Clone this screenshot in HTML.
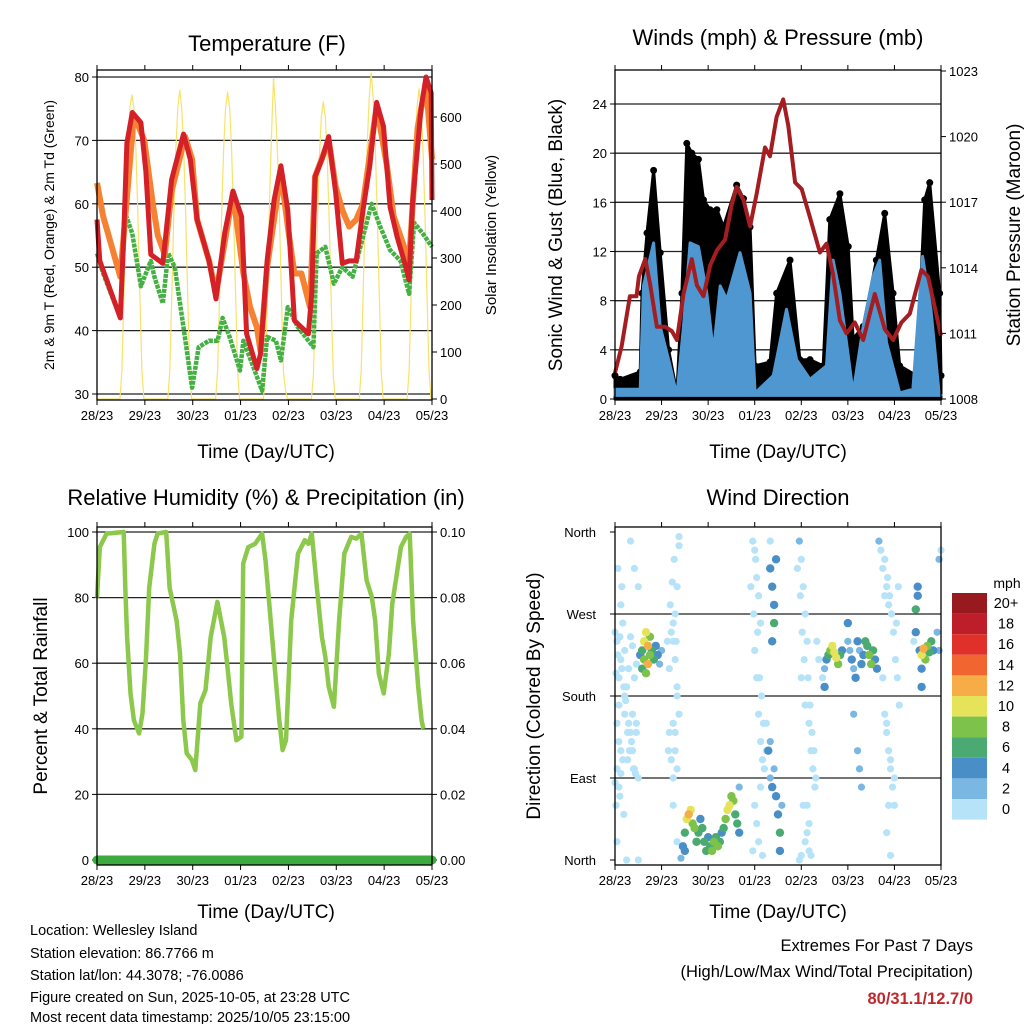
<!DOCTYPE html>
<html><head><meta charset="utf-8"><style>
body{margin:0;background:#fff;}
svg{display:block;font-family:"Liberation Sans",sans-serif;}
</style></head><body>
<svg id="chart" width="1024" height="1024" viewBox="0 0 1024 1024" xmlns="http://www.w3.org/2000/svg">
<rect x="0" y="0" width="1024" height="1024" fill="#fff"/>
<g id="texts" font-family="Liberation Sans, sans-serif" fill="#000">
<text x="267" y="51" font-size="22" text-anchor="middle">Temperature (F)</text>
<text x="778" y="45" font-size="22" text-anchor="middle">Winds (mph) &amp; Pressure (mb)</text>
<text x="266" y="505" font-size="22" text-anchor="middle">Relative Humidity (%) &amp; Precipitation (in)</text>
<text x="778" y="505" font-size="22" text-anchor="middle">Wind Direction</text>
<text x="266" y="458" font-size="19" text-anchor="middle">Time (Day/UTC)</text>
<text x="778" y="458" font-size="19" text-anchor="middle">Time (Day/UTC)</text>
<text x="266" y="918" font-size="19" text-anchor="middle">Time (Day/UTC)</text>
<text x="778" y="918" font-size="19" text-anchor="middle">Time (Day/UTC)</text>
<text transform="translate(54,235) rotate(-90)" font-size="14" text-anchor="middle">2m &amp; 9m T (Red, Orange) &amp; 2m Td (Green)</text>
<text transform="translate(496,235) rotate(-90)" font-size="15" text-anchor="middle">Solar Insolation (Yellow)</text>
<text transform="translate(562,235) rotate(-90)" font-size="19" text-anchor="middle">Sonic Wind &amp; Gust (Blue, Black)</text>
<text transform="translate(1020,235) rotate(-90)" font-size="19" text-anchor="middle">Station Pressure (Maroon)</text>
<text transform="translate(47,696) rotate(-90)" font-size="19" text-anchor="middle">Percent &amp; Total Rainfall</text>
<text transform="translate(540,696) rotate(-90)" font-size="19" text-anchor="middle">Direction (Colored By Speed)</text>
<text x="1007" y="588" font-size="14" text-anchor="middle">mph</text>
<g font-size="14.5">
<text x="30" y="935">Location: Wellesley Island</text>
<text x="30" y="958">Station elevation: 86.7766 m</text>
<text x="30" y="980">Station lat/lon: 44.3078; -76.0086</text>
<text x="30" y="1002">Figure created on Sun, 2025-10-05, at 23:28 UTC</text>
<text x="30" y="1024" dy="-2">Most recent data timestamp: 2025/10/05 23:15:00</text>
</g>
<text x="973" y="951" font-size="16.5" text-anchor="end">Extremes For Past 7 Days</text>
<text x="973" y="977" font-size="16.5" text-anchor="end">(High/Low/Max Wind/Total Precipitation)</text>
<text x="973" y="1004" font-size="16.5" font-weight="bold" fill="#c0282d" text-anchor="end">80/31.1/12.7/0</text>
</g>
</svg>
<script>
// ---------- data ----------
const dayLabels=["28/23","29/23","30/23","01/23","02/23","03/23","04/23","05/23"];
const tempTicks=[30,40,50,60,70,80];
const solarTicks=[0,100,200,300,400,500,600];
const windTicks=[0,4,8,12,16,20,24];
const pressTicks=[1008,1011,1014,1017,1020,1023];
const rhTicks=[0,20,40,60,80,100];
const precipTicks=["0.00","0.02","0.04","0.06","0.08","0.10"];
const dirTicks=["North","East","South","West","North"];
const legendLabels=["20+","18","16","14","12","10","8","6","4","2","0"];

const t2Hours=[0,1.4,11.7,13.4,15,17.7,22,24.5,27,33,37.4,43.4,46.8,50.2,56.2,59.7,64,68.2,72.5,75,80.2,82,85.3,88.8,92.2,95.7,99,106,107.7,109.4,112.8,116.2,119.7,123,126.5,130,133.4,136.8,140.2,143.7,147,150.5,154,156.5,158.2,162.5,165,167.6,168];
const t2Vals=[57.5,51,42,55,69.6,74.4,72.8,65,52,50.6,63.8,71,67,57.5,51,45,55.3,62,58,39.5,34,36.3,51,60.6,66,59,41.6,39.5,46,64.3,67,70.6,61.7,50.6,51,51,59,66,76,72.2,59.5,54.8,51,48,60,75,80,77.5,60.6];
const t9Hours=[0,3.1,11.7,13.4,18.5,23.7,28,30.5,34,37.4,44.2,47.7,50.2,56.2,59.7,68.2,73.4,76.8,80.2,82,85.3,92.2,95.7,99,102.5,106.8,109.4,116.2,119.7,123,126.5,130,133.4,140.2,145.4,148.8,154,156.5,160.8,165,168];
const t9Vals=[63.3,58,48.5,55,74,70,60,55,52,62,70.6,67,57.5,51,45.8,61.7,49,43.7,40.5,36.8,50,65,56.4,49,49,43.7,64.3,70,62.7,59,56.4,57.5,60,75.4,66,58,53.2,51,72,79,67];
const tdHours=[0,3.1,11.7,14.2,17.7,22,27,28.8,33,35.7,39,43.4,47.7,51,56.2,60.5,63,66.5,71.7,73.4,78.5,82.8,85.3,89.7,92.2,95.7,100.8,106,108.5,110.2,114.5,118.8,123,128.2,133.4,137.7,142,147,152.2,156.5,159,163.4,168];
const tdVals=[52.2,49,42,58.5,55.3,47,51,48.5,44.3,52.2,50,40.5,31,37.4,38.4,38.4,42,39,33.7,38.4,34.2,30.5,39,38.4,35.3,43.7,40.5,38.4,37.4,52.2,53.2,47.4,50,48.5,54.8,60,56.4,52.7,51,45.8,57,55.3,53.2];
const solarHours=[0,11.5,12.5,13.5,14.5,15.5,16.5,17.5,18.5,19.5,20.5,21.5,22.5,23.5,
35.5,36.5,37.5,38.5,39.5,40.5,41.5,42.5,43.5,44.5,45.5,46.5,47.5,
59.5,60.5,61.5,62.5,63.5,64.5,65.5,66.5,67.5,68.5,69.5,70.5,71.5,
83.5,84.5,85.5,86.5,87.5,88.5,89.5,90.5,91.5,92.5,93.5,94.5,95.5,
107.5,108.5,109.5,110.5,111.5,112.5,113.5,114.5,115.5,116.5,117.5,118.5,119.5,
131.5,132.5,133.5,134.5,135.5,136.5,137.5,138.5,139.5,140.5,141.5,142.5,143.5,
155.5,156.5,157.5,158.5,159.5,160.5,161.5,162.5,163.5,164.5,165.5,166.5,167.5,168];
const solarVals=[0,0,60,220,390,530,620,647,620,530,390,220,60,0,
0,60,220,390,530,620,657,620,530,390,220,60,0,
0,60,220,390,530,620,653,620,530,390,220,60,0,
0,60,220,420,560,683,620,520,390,220,60,20,0,
0,50,200,370,510,600,632,600,510,370,200,50,0,
0,60,230,400,540,640,694,640,540,400,230,60,0,
0,60,220,390,530,620,660,620,530,390,220,60,0,20];

const gustHours=[0,2.7,13,13.9,16.5,19.9,23.3,27.6,31.9,34.5,37,39.6,43,45.6,49,52.5,55.9,62.7,66.2,69.6,72.2,79.9,83.3,90.2,95.3,100.5,107.3,110.7,115.9,120.2,122.7,127.9,134.7,139,143.3,146.7,155.3,159.6,162.2,167.3,168];
const gustVals=[1.9,1.6,2.2,8.6,13.5,18.6,11.9,4,0.5,8.6,20.8,20,19.5,16.2,15.4,15.4,14,17.4,16.3,14,2.7,3,8.6,11.3,3.2,3.2,2.7,14.6,16.7,12.4,4.9,5.9,11.3,15.1,8.6,2.7,1.9,16.2,17.6,8.6,1.9];
const sustHours=[0,13,14.7,19.9,23.3,28.4,31.9,35.3,38.7,43,47.3,50.7,54.2,57.6,64.4,69.6,72.2,81.6,88.4,93.6,100.5,109,112.4,115.9,119.3,122.7,127.9,133,136.4,139.9,146.7,153.5,158.5,162.8,167];
const sustVals=[0.8,0.8,9.2,12.7,5.9,2.7,0.3,5.9,12.7,12.4,8.6,3.8,9.2,8.1,11.9,8.6,0.5,1.9,7.3,3.2,1.6,2.7,11.3,8.6,4.6,0.5,5.9,10,11.3,4.6,0.5,0.8,11.6,7.3,0.5];
const pressHours=[0,3.4,7.7,11.1,12.3,15.6,18.2,21.6,25.9,29.3,31.9,35.3,39.6,42.2,45.6,49,52.5,56.8,60.2,62.7,66.2,69.6,73,77.3,79.9,83.3,86.7,89.3,92.8,96.2,100.5,105.6,109,112.4,115.9,119.3,123.6,127.9,133.9,139,143.3,147.6,151.9,157.9,161.3,166.5,168];
const pressVals=[1009.2,1010.4,1012.7,1012.7,1013.6,1014.4,1013.2,1011.3,1011.3,1011.1,1010.7,1012.8,1014.4,1013.2,1012.7,1014.1,1014.8,1015.3,1016.9,1017.7,1017.1,1015.9,1017.4,1019.5,1019.1,1020.9,1021.7,1020.5,1017.9,1017.6,1016.3,1014.7,1015.1,1013.7,1011.6,1011,1011.5,1010.7,1012.8,1011.2,1010.7,1011.5,1011.9,1013.9,1013.6,1011.5,1010.9];

const rhHours=[0,1.4,4.8,13.4,14.2,15.1,16.8,18.5,21.1,22.8,24.5,26.2,28.8,30.4,34.7,36.4,39.9,41.6,43.3,45,47.6,49.3,51.8,54.4,57,60.4,63.8,65.6,67.3,69.9,72.4,73.3,75.9,79.3,82.8,84.5,87.1,91.4,93.1,94.8,97.4,100.8,104.2,106,107.7,110.3,112.8,114.5,116.2,118.8,121.4,124,127.5,130,132.6,135.2,137.8,139.5,141.3,143.8,146.4,148.1,152.4,155,156.8,158.5,161.1,162.8,163.7];
const rhVals=[80,95.4,99.5,100,83,68,50.8,42.6,38.6,44.7,61,83,96.4,99.5,100,83,73,63,42.6,32.5,30.5,27.4,47.7,51.8,68,78.7,68,57.9,47.7,36.5,37.6,90.4,95.4,96.4,99.5,91.4,73,42.6,33.5,36.5,73,93.4,97.5,96.4,99.5,83,68,62,52.8,46.7,73,93.4,98.5,98,99.5,85.3,80.2,73,56.9,50.8,63,78.2,95.4,98.5,99.5,73,52.8,42.6,40];
const precipHours=[0,168];
const precipVals=[0,0];

const dirHours=[0,1,2,3,4,5,6,7,8,9,10,11,1,2,3,4,5,8,9,10,11,12,0,1,2,3,8,10,12,3,1,12,6,
13,14,15,15,16,17,17,18,18,19,20,21,22,23,24,16,14,
29,30,31,32,33,33,30,31,32,30,31,31,32,33,30,32,
34,35,36,37,38,39,40,41,42,43,44,45,46,47,48,49,50,51,52,53,54,55,56,57,58,59,60,61,62,63,64,64,36,
71,72,73,74,75,72,73,74,75,76,72,74,76,78,78,
80,80,81,82,82,83,81,80,81,82,83,84,85,85,86,79,80,
95,96,97,98,99,96,98,100,101,102,103,99,100,98,101,104,105,95,
107,108,109,110,111,112,113,114,115,116,117,108,
120,121,122,123,124,125,126,127,128,129,130,131,132,133,134,135,120,123,125,126,127,
136,137,138,139,140,141,138,139,140,141,142,143,144,140,142,145,146,
154,155,155,156,156,157,158,159,160,161,162,163,164,158,158,166,167,167,168];
const dirDegs=[250,240,200,220,260,230,190,210,245,235,200,215,150,130,95,110,160,140,120,100,150,90,85,100,80,120,350,320,300,280,20,0,0,
225,230,220,240,250,235,215,225,245,230,220,235,225,215,230,205,210,
250,260,270,300,345,355,240,220,190,150,140,120,100,160,60,20,
2,15,30,45,50,55,40,35,20,30,45,35,20,10,25,15,10,20,25,15,20,30,35,45,55,60,70,65,50,40,30,80,10,
350,340,310,290,260,230,200,160,130,110,60,20,5,150,120,
350,320,300,280,260,330,240,90,80,100,70,50,30,10,60,120,130,
350,330,300,270,240,200,170,150,120,100,80,60,40,20,5,240,220,0,
200,210,220,225,230,235,228,222,215,225,230,190,
240,230,220,210,200,240,230,215,225,240,235,225,215,230,220,210,260,160,120,100,80,
350,340,320,290,300,280,200,160,140,120,100,80,60,30,5,260,300,
240,250,275,290,300,230,225,232,220,235,228,240,230,210,190,250,230,330,340];
const dirSpeeds=[1,1,1,1,1,1,1,1,1,1,1,1,1,1,1,1,1,1,1,1,1,1,1,1,1,1,1,1,1,1,1,1,1,
5,7,8,10,11,13,12,9,8,7,6,4,4,3,3,8,6,
1,1,1,1,1,1,1,1,1,1,1,1,1,1,1,1,
3,4,6,10,12,11,9,8,7,6,5,6,7,6,5,7,8,8,7,8,6,5,7,9,10,11,9,8,7,6,4,3,4,
1,1,1,1,1,1,1,1,1,1,1,1,1,1,1,1,
4,4,5,6,4,4,3,4,3,5,4,6,4,3,5,3,2,
1,1,1,1,1,1,1,1,1,1,1,1,1,1,1,1,1,1,
3,4,7,9,10,11,10,8,6,5,4,3,
3,4,2,4,5,3,4,5,6,7,8,9,7,5,4,4,2,2,2,2,3,
1,1,1,1,1,1,1,1,1,1,1,1,1,1,1,1,1,
4,6,4,5,4,10,12,9,8,7,6,5,4,5,3,2,3,1,1];
// extra calm (0-2 mph) observations
const calmHours=[0.5,1.5,2.5,3.5,4.5,5.5,6.5,7.5,9.5,10.5,0.5,2.5,4.5,6.5,8.5,1.5,3.5,2,5,7,9,11,
27,28,28.5,29.5,30.5,31.5,27.5,29,30,32,28,
70,71.5,72.5,73.5,74.5,75.5,76.5,77,73,75,71,
94,95.5,96.5,97.5,99.5,100.5,101.5,102.5,103.5,97,99,100,96,
139,140.5,141.5,142.5,143.5,144.5,145.5,146.5,140,142,144,141];
const calmDegs=[205,225,245,210,190,175,140,120,100,95,60,70,50,110,130,320,300,170,180,150,160,140,
240,210,280,305,330,240,120,110,90,180,140,
300,270,330,250,200,180,150,100,40,80,10,
320,290,250,220,200,170,140,120,90,60,30,10,5,
330,310,290,270,250,220,200,170,150,110,90,60];
const speedColors=["#b6e3f8","#7ab8e3","#4a8ec7","#4aaa72","#7dc24a","#e5e35a","#f6ad48","#f06530","#e0302a","#be1e2a","#991a1e"];

// ---------- helpers ----------
const NS="http://www.w3.org/2000/svg";
const svg=document.getElementById('chart');
function mk(tag,attrs,parent){const e=document.createElementNS(NS,tag);for(const k in attrs)e.setAttribute(k,attrs[k]);(parent||svg).appendChild(e);return e;}
function lin(d0,d1,r0,r1){return v=>r0+(v-d0)/(d1-d0)*(r1-r0);}
function pts(xs,ys,fx,fy){return xs.map((h,i)=>fx(h).toFixed(1)+","+fy(ys[i]).toFixed(1)).join(" ");}

const xL=lin(0,168,97,432), xR=lin(0,168,615,941);
const yT=lin(30,80,394,77), ySol=lin(0,600,399,117);
const yW=lin(0,24,399,104), yP=lin(1008,1023,399,71);
const yRH=lin(0,100,860,532), yD=lin(0,360,860,532);

function frame(x0,y0,x1,y1,name,gridYs,xScale){
  const g=mk('g',{});
  
  
  gridYs.forEach(y=>{mk('line',{x1:x0,x2:x1,y1:y,y2:y,stroke:'#222','stroke-width':1.3},g);});
  dayLabels.forEach((lab,i)=>{
    const x=xScale(i*24);
    mk('line',{x1:x,x2:x,y1:y1,y2:y1+5,stroke:'#000','stroke-width':1},g);
    mk('line',{x1:x,x2:x,y1:y0,y2:y0-5,stroke:'#000','stroke-width':1},g);
    const t=mk('text',{x:x,y:y1+20,'font-size':13,'text-anchor':'middle'},g);
    t.textContent=lab;
    
    
  });
  return g;
}
function border(x0,y0,x1,y1){mk('rect',{x:x0,y:y0,width:x1-x0,height:y1-y0,fill:'none',stroke:'#000','stroke-width':1.3});}
function yLabels(vals,scale,x,anchor,g){
  vals.forEach(v=>{const y=scale(typeof v==='string'?parseFloat(v):v);
    const dx=anchor==='end'?-5:5;
    mk('line',{x1:x,x2:x+dx,y1:y,y2:y,stroke:'#000'},g);
    const t=mk('text',{x:x+dx*1.6,y:y+5,'font-size':13,'text-anchor':anchor},g);
    t.textContent=v;
    
    
  });
}

// ---------- Panel 1: temperature ----------
let g1=frame(97,70,432,400,'temperature',tempTicks.map(yT),xL);
yLabels(tempTicks,yT,97,'end',g1);
yLabels(solarTicks,ySol,432,'start',g1);
const sol=mk('polyline',{points:pts(solarHours,solarVals,xL,ySol),fill:'none',stroke:'#f7e26a','stroke-width':1.2,'stroke-linejoin':'round'});


const td=mk('polyline',{points:pts(tdHours,tdVals,xL,yT),fill:'none',stroke:'#45b043','stroke-width':4.5,'stroke-linejoin':'round','stroke-dasharray':'4 1'});


const t9=mk('polyline',{points:pts(t9Hours,t9Vals,xL,yT),fill:'none',stroke:'#f58132','stroke-width':6,'stroke-linejoin':'round'});


const t2=mk('polyline',{points:pts(t2Hours,t2Vals,xL,yT),fill:'none',stroke:'#d42127','stroke-width':5,'stroke-linejoin':'round'});


border(97,70,432,400);

// ---------- Panel 2: winds ----------
let g2=frame(615,70,941,400,'winds',windTicks.slice(1).map(yW),xR);
yLabels(windTicks,yW,615,'end',g2);
yLabels(pressTicks,yP,941,'start',g2);
let gustPoly=gustHours.map((h,i)=>xR(h).toFixed(1)+","+yW(gustVals[i]).toFixed(1)).join(" ")+" "+xR(168)+","+yW(0)+" "+xR(0)+","+yW(0);
const gust=mk('polygon',{points:gustPoly,fill:'#000',stroke:'#000','stroke-width':3,'stroke-linejoin':'round'});


gustHours.forEach((h,i)=>{const c=mk('circle',{cx:xR(h),cy:yW(gustVals[i]),r:3.5,fill:'#000'});
  
  });
let sustPoly=sustHours.map((h,i)=>xR(h).toFixed(1)+","+yW(sustVals[i]).toFixed(1)).join(" ")+" "+xR(168)+","+yW(0.3)+" "+xR(0)+","+yW(0.3);
const sust=mk('polygon',{points:sustPoly,fill:'#4f97d1',stroke:'#4f97d1','stroke-width':3,'stroke-linejoin':'round'});


const pr=mk('polyline',{points:pts(pressHours,pressVals,xR,yP),fill:'none',stroke:'#a31d21','stroke-width':4,'stroke-linejoin':'round'});


border(615,70,941,400);

// ---------- Panel 3: RH ----------
let g3=frame(97,527,432,865,'humidity',[20,40,60,80,100].map(yRH),xL);
yLabels(rhTicks,yRH,97,'end',g3);
yLabels(precipTicks,v=>yRH(parseFloat(v)*1000),432,'start',g3);
const rh=mk('polyline',{points:pts(rhHours,rhVals,xL,yRH),fill:'none',stroke:'#8cc84b','stroke-width':4.5,'stroke-linejoin':'round'});


const pc=mk('polyline',{points:pts(precipHours,precipVals,xL,v=>yRH(v*1000)),fill:'none',stroke:'#3daa3f','stroke-width':9,'stroke-linecap':'round'});


border(97,527,432,865);

// ---------- Panel 4: direction ----------
let g4=frame(615,527,941,865,'direction',[90,180,270].map(yD),xR);
dirTicks.forEach((lab,i)=>{const y=yD(i*90);
  mk('line',{x1:615,x2:610,y1:y,y2:y,stroke:'#000'},g4);
  const t=mk('text',{x:596,y:y+5,'font-size':13,'text-anchor':'end'},g4);
  t.textContent=lab;
  
  });
function binOf(s){return Math.min(10,Math.floor(s/2));}
calmHours.forEach((h,i)=>{
  const c=mk('circle',{cx:xR(h),cy:yD(calmDegs[i]),r:3.6,fill:speedColors[0]});
  
  
});
const order=dirHours.map((h,i)=>i).sort((a,b)=>dirSpeeds[a]-dirSpeeds[b]);
order.forEach(i=>{
  const c=mk('circle',{cx:xR(dirHours[i]),cy:yD(dirDegs[i]),r:dirSpeeds[i]>=4?4.2:3.6,fill:speedColors[binOf(dirSpeeds[i])]});
  
  
});
border(615,527,941,865);
// legend
legendLabels.forEach((lab,i)=>{
  const y=593+i*20.6;
  const r=mk('rect',{x:952,y:y,width:35,height:20.6,fill:speedColors[10-i]});
  
  
  const t=mk('text',{x:1006,y:y+15,'font-size':14.5,'text-anchor':'middle'});
  t.textContent=lab;
  
  
});
</script>
</body></html>
